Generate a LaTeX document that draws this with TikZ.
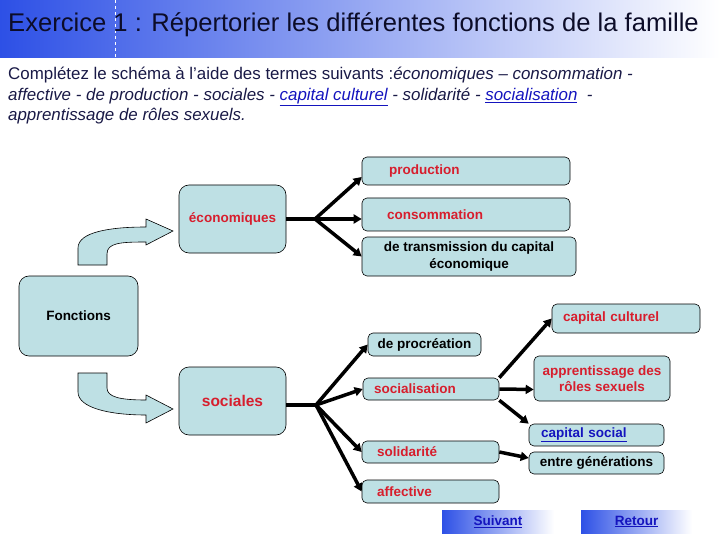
\documentclass[tikz,border=0pt]{standalone}
\usepackage{fontspec}
\setmainfont{Liberation Sans}
\usetikzlibrary{arrows.meta,positioning,calc}

\definecolor{fondboite}{RGB}{190,224,228}
\definecolor{rougeterme}{RGB}{215,30,45}
\definecolor{bleulien}{RGB}{20,20,190}
\definecolor{encre}{RGB}{25,25,70}
\definecolor{bleubandeau}{RGB}{45,80,230}

\begin{document}
\begin{tikzpicture}[
    x=1pt, y=-1pt,
    boite/.style={draw=black, line width=0.6pt, fill=fondboite, rounded corners=5pt,
      inner ysep=0pt, font=\fontsize{13.5}{16.5}\selectfont\bfseries},
    grande/.style={boite, rounded corners=10pt, align=center},
    gauche/.style={boite, align=left},
    centre/.style={boite, align=center, inner xsep=0pt},
    terme/.style={text=rougeterme},
    trait/.style={line width=3.5pt},
    fleche/.style={line width=3.5pt, -{Triangle[length=8pt,width=9pt]}},
    bloc/.style={draw=black, line width=0.6pt, fill=fondboite},
    bouton/.style={left color=bleubandeau, right color=white, text=bleulien,
      minimum height=23, inner sep=0pt, font=\fontsize{13.5}{16}\selectfont\bfseries}
]
\useasboundingbox (0,0) rectangle (720,540);

% bandeau du titre
\shade[left color=bleubandeau, middle color=bleubandeau!45!white, right color=white] (0,0) rectangle (720,58);
\draw[white, line width=0.8pt, dashed] (115,0) -- (115,57);
\node[anchor=base west, inner sep=0pt, text={rgb,255:red,12;green,12;blue,40},
  font=\fontsize{25.6}{30}\selectfont] (titre) at (8,32)
  {Exercice 1 : Répertorier les différentes fonctions de la famille};

% consigne
\node[anchor=north west, inner sep=0pt, align=left, text=encre,
  font=\fontsize{16.9}{20.5}\selectfont] (consigne) at (8,67)
  {Complétez le schéma à l’aide des termes suivants :\textit{économiques – consommation -}\\
   \textit{affective - de production - sociales - {\color{bleulien}\underline{capital culturel}} - solidarité - {\color{bleulien}\underline{socialisation}}\ \ -}\\
   \textit{apprentissage de rôles sexuels.}};

% cases principales
\node[grande, minimum width=119, minimum height=80] (fonc) at (78.5,316) {Fonctions};
\node[grande, terme, minimum width=107, minimum height=68] (eco) at (232.5,219) {économiques};
\node[grande, terme, minimum width=107, minimum height=68,
  font=\fontsize{15.5}{18}\selectfont\bfseries] (soci) at (232.5,401) {sociales};

% fonctions économiques
\node[gauche, terme, text width=154, inner xsep=27, minimum height=28] (prod) at (466,171) {production};
\node[gauche, terme, text width=158, inner xsep=25, minimum height=33] (conso) at (466,214.5) {consommation};
\node[centre, minimum width=214, minimum height=39] (trans) at (469,256.5) {de transmission du capital\\économique};

% fonctions sociales
\node[centre, minimum width=113, minimum height=23] (proc) at (424.5,344.5) {de procréation};
\node[gauche, terme, text width=114, inner xsep=11, minimum height=22] (socia) at (431,389) {socialisation};
\node[gauche, text width=107, inner xsep=15, minimum height=22, terme] (soli) at (430.5,452) {solidarité};
\node[gauche, text width=107, inner xsep=15, minimum height=23, terme] (affe) at (430.5,491.5) {affective};
\node[gauche, terme, text width=126, inner xsep=11, minimum height=29] (cult) at (626,318.5) {capital culturel};
\node[centre, terme, minimum width=136, minimum height=45] (appr) at (602,378.5) {apprentissage des\\rôles sexuels};
\node[gauche, text=bleulien, text width=111, inner xsep=12, minimum height=22] (csoc) at (596.5,435) {\underline{capital social}};
\node[centre, minimum width=135, minimum height=22] (gen) at (596.5,463) {entre générations};

% boutons
\node[bouton, minimum width=112] (suiv) at (498,521.5) {\underline{Suivant}};
\node[bouton, minimum width=111] (ret) at (636.5,521.5) {\underline{Retour}};

% flèches courbes
\draw[bloc] (78,265) -- (78,248) .. controls (78,232) and (110,227) .. (146,227)
  -- (146,219) -- (173,231) -- (146,245) -- (146,242)
  .. controls (120,242) and (107,243) .. (107,254) -- (107,265) -- cycle;
\draw[bloc] (78,373) -- (78,392) .. controls (78,408) and (110,415) .. (146,415)
  -- (146,423) -- (173,409) -- (146,395) -- (146,400)
  .. controls (120,400) and (107,397) .. (107,388) -- (107,373) -- cycle;

% liaisons
\coordinate (neudEco) at (315,219);
\coordinate (neudSoc) at (316,405);
\draw[trait] (eco.east) -- (neudEco);
\draw[fleche] (neudEco) -- ([yshift=-6pt]prod.west);
\draw[fleche] (neudEco) -- ([yshift=-4.5pt]conso.west);
\draw[fleche] (neudEco) -- (trans.west);

\draw[trait] ([yshift=-4pt]soci.east) -- (neudSoc);
\draw[fleche] (neudSoc) -- (proc.west);
\draw[fleche] (neudSoc) -- (socia.west);
\draw[fleche] (neudSoc) -- (soli.west);
\draw[fleche] (neudSoc) -- (affe.west);

\draw[fleche] (socia.north east) -- (cult.west);
\draw[fleche] (socia.east) -- ([yshift=-11pt]appr.west);
\draw[fleche] (socia.south east) -- (csoc.north west);
\draw[fleche] (soli.east) -- ([yshift=5pt]gen.west);

\end{tikzpicture}
\end{document}
